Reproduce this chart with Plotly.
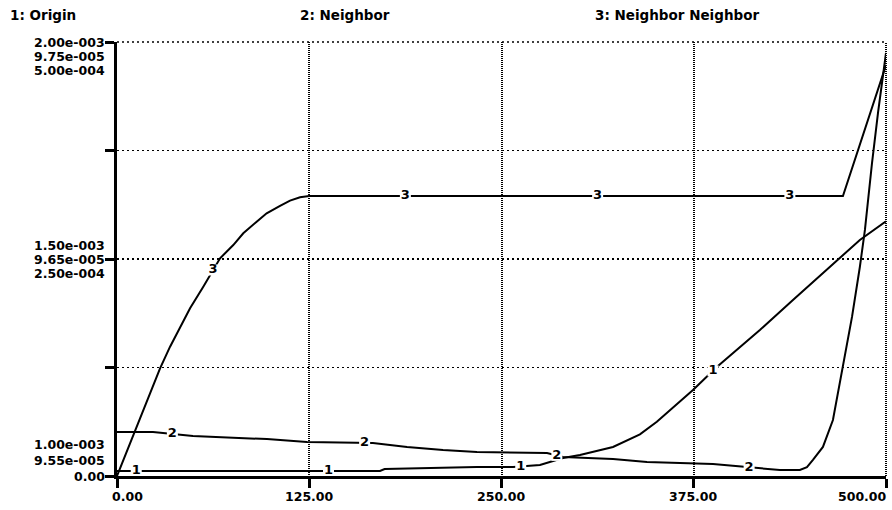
import numpy as np
import plotly.graph_objects as go

# ---------------- data ----------------
# 1: Origin  (scale 1.00e-003 .. 2.00e-003)
origin_t = [0, 171, 174, 234, 257.5, 275, 290, 301, 322.5, 340, 351, 374.5,
            390, 418, 439.5, 470, 483, 500]
origin_v = [1.0115e-3, 1.0115e-3, 1.0161e-3, 1.0207e-3, 1.0207e-3, 1.0253e-3,
            1.0415e-3, 1.0484e-3, 1.0668e-3, 1.096e-3, 1.125e-3, 1.198e-3,
            1.251e-3, 1.3364e-3, 1.4055e-3, 1.5023e-3, 1.5438e-3, 1.587e-3]

# 2: Neighbor  (scale 9.55e-005 .. 9.75e-005)
neighbor_t = [0, 23.4, 49.4, 75.4, 97.5, 123.5, 166.4, 188.6, 212, 234, 279.6,
              290, 322.5, 344.6, 387.5, 409.6, 431, 444, 448.6, 452.5, 459,
              465.5, 468, 471.4, 477.9, 483, 486.3, 490.9, 494.8, 500]
neighbor_v = [9.5703e-5, 9.5703e-5, 9.5684e-5, 9.5675e-5, 9.5670e-5, 9.5657e-5,
              9.5652e-5, 9.5634e-5, 9.5620e-5, 9.5611e-5, 9.5606e-5, 9.5588e-5,
              9.5578e-5, 9.5565e-5, 9.5555e-5, 9.5541e-5, 9.5528e-5, 9.5528e-5,
              9.5541e-5, 9.5574e-5, 9.5634e-5, 9.5758e-5, 9.5850e-5, 9.5979e-5,
              9.6233e-5, 9.6463e-5, 9.6634e-5, 9.6942e-5, 9.7173e-5, 9.7450e-5]

# 3: Neighbor Neighbor  (scale 0.00 .. 5.00e-004)
nn_t = [0, 6.3, 11.7, 17.1, 28, 34.5, 41, 47.5, 56.1, 67, 75.6, 82.1, 90.8,
        97.3, 106, 112.5, 119, 125, 250, 375, 472, 500]
nn_v = [0, 0.280e-4, 0.530e-4, 0.760e-4, 1.241e-4, 1.490e-4, 1.720e-4, 1.932e-4,
        2.181e-4, 2.508e-4, 2.661e-4, 2.796e-4, 2.930e-4, 3.026e-4, 3.111e-4,
        3.172e-4, 3.211e-4, 3.226e-4, 3.226e-4, 3.226e-4, 3.226e-4, 4.735e-4]

series_names = ["1: Origin", "2: Neighbor", "3: Neighbor Neighbor"]
series_ids = ["1", "2", "3"]

# axis scales and tick labels
x_ticks = [0, 125, 250, 375, 500]
x_tick_text = ["0.00", "125.00", "250.00", "375.00", "500.00"]
origin_range = [1.00e-3, 2.00e-3]
neighbor_range = [9.55e-5, 9.75e-5]
nn_range = [0.0, 5.00e-4]
y_grid_vals = [1.00e-3, 1.25e-3, 1.50e-3, 1.75e-3, 2.00e-3]
origin_tick_vals = [1.00e-3, 1.50e-3, 2.00e-3]
origin_tick_text = ["1.00e-003", "1.50e-003", "2.00e-003"]
neighbor_tick_vals = [9.55e-5, 9.65e-5, 9.75e-5]
neighbor_tick_text = ["9.55e-005", "9.65e-005", "9.75e-005"]
nn_tick_vals = [0.0, 2.50e-4, 5.00e-4]
nn_tick_text = ["0.00", "2.50e-004", "5.00e-004"]

# times at which the series numbers are written on the curves
label_times = [[12.5, 137.5, 262.5, 387.5],
               [36, 161, 286, 411],
               [62.5, 187.5, 312.5, 437.5]]

# ---------------- figure ----------------
FONT = "DejaVu Sans"
fig = go.Figure()

series = [(origin_t, origin_v, "y"), (neighbor_t, neighbor_v, "y2"), (nn_t, nn_v, "y3")]

for i, (t, v, ax) in enumerate(series):
    fig.add_trace(go.Scatter(x=t, y=v, yaxis=ax, mode="lines",
                             line=dict(color="black", width=2),
                             showlegend=False, hoverinfo="skip"))
    lt = label_times[i]
    lv = np.interp(lt, t, v)
    fig.add_trace(go.Scatter(x=lt, y=lv, yaxis=ax, mode="markers+text",
                             marker=dict(symbol="square", size=11, color="white"),
                             text=[series_ids[i]] * len(lt),
                             textposition="middle center",
                             textfont=dict(family=FONT, size=13, color="black", weight="bold"),
                             showlegend=False, hoverinfo="skip"))

annotations = []
# series titles across the top
title_x = [-0.1417, 0.2354, 0.619]
for name, xp in zip(series_names, title_x):
    annotations.append(dict(x=xp, y=1, xref="paper", yref="paper", text=name,
                            xanchor="left", yanchor="middle", yshift=27,
                            showarrow=False,
                            font=dict(family=FONT, size=13.5, color="black", weight="bold")))

# stacked y tick labels, one row per series, each on its own scale
rows = [(origin_tick_vals, origin_tick_text, "y"),
        (neighbor_tick_vals, neighbor_tick_text, "y2"),
        (nn_tick_vals, nn_tick_text, "y3")]
row_gap = [16, 14, 14]  # line spacing for bottom / middle / top label groups
for k, (vals, texts, ref) in enumerate(rows):
    for j, (val, txt) in enumerate(zip(vals, texts)):
        annotations.append(dict(x=0, y=val, xref="paper", yref=ref, text=txt,
                                xanchor="right", yanchor="middle",
                                xshift=-11, yshift=-row_gap[j] * (k - (2 - j)),
                                showarrow=False, borderpad=0,
                                font=dict(family=FONT, size=12.5, color="black", weight="bold")))

# x tick labels
for n, (val, txt) in enumerate(zip(x_ticks, x_tick_text)):
    if n == 0:
        anchor, xs = "center", 10
    elif n == len(x_ticks) - 1:
        anchor, xs = "right", 3
    else:
        anchor, xs = "center", 0
    annotations.append(dict(x=val, y=0, xref="x", yref="paper", text=txt,
                            xanchor=anchor, yanchor="middle", xshift=xs, yshift=-20,
                            showarrow=False,
                            font=dict(family=FONT, size=12.5, color="black", weight="bold")))

# dotted frame lines at the top and right edge (grid lines at the range ends)
shapes = [
    dict(type="line", xref="paper", yref="paper", x0=0, x1=1, y0=1, y1=1,
         line=dict(color="black", width=1.5, dash="2px,3px"), layer="below"),
    dict(type="line", xref="paper", yref="paper", x0=1, x1=1, y0=0, y1=1,
         line=dict(color="black", width=2, dash="1px,1px"), layer="below"),
]

fig.update_layout(
    width=892, height=510,
    margin=dict(l=117, r=6, t=42, b=34),
    paper_bgcolor="white", plot_bgcolor="white",
    showlegend=False,
    annotations=annotations,
    shapes=shapes,
    xaxis=dict(range=[0, 500], tickvals=x_ticks, showticklabels=False,
               ticks="outside", ticklen=9, tickwidth=3, tickcolor="black",
               showline=True, linewidth=3, linecolor="black",
               showgrid=True, gridcolor="black", gridwidth=2, griddash="1px,1px",
               zeroline=False, fixedrange=True),
    yaxis=dict(range=origin_range, tickvals=y_grid_vals, showticklabels=False,
               ticks="outside", ticklen=9, tickwidth=3, tickcolor="black",
               showline=True, linewidth=3, linecolor="black",
               showgrid=True, gridcolor="black", gridwidth=1.5, griddash="2px,3px",
               zeroline=False, fixedrange=True),
    yaxis2=dict(range=neighbor_range, overlaying="y", visible=False, fixedrange=True),
    yaxis3=dict(range=nn_range, overlaying="y", visible=False, fixedrange=True),
)

fig.write_html("out.html",
               config={"displayModeBar": False, "staticPlot": True},
               post_script="document.body.style.margin='0';document.body.style.padding='0';"
                           "document.body.style.overflow='hidden';")
